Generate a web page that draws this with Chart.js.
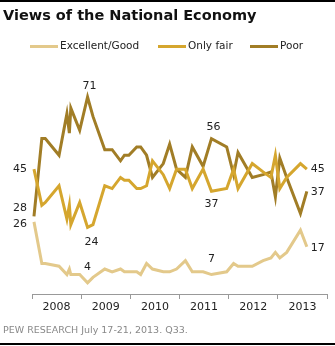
<!DOCTYPE html>
<html lang="en">
<head>
<meta charset="UTF-8">
<title>Views of the National Economy</title>
<script src="https://cdn.jsdelivr.net/npm/chart.js"></script>
<style>
    body {
        margin: 0;
        background: #fff;
        font-family: 'DejaVu Sans', sans-serif;
    }

    .wrap {
        position: relative;
        width: 335px;
        height: 346px;
        overflow: hidden;
    }

    .rule {
        position: absolute;
        left: 0;
        width: 335px;
        height: 2px;
        background: #000;
    }

    h1 {
        position: absolute;
        left: 3px;
        top: 7px;
        margin: 0;
        font-size: 14.5px;
        font-weight: bold;
        color: #111;
        white-space: nowrap;
    }

    .legend-item {
        position: absolute;
        top: 39px;
        font-size: 10.5px;
        color: #222;
        white-space: nowrap;
    }

    .legend-item i {
        display: inline-block;
        width: 28px;
        height: 3px;
        vertical-align: middle;
        margin-right: 2px;
    }

    .source {
        position: absolute;
        left: 3px;
        top: 324px;
        font-size: 9.5px;
        color: #888;
        white-space: nowrap;
    }

    canvas {
        position: absolute;
        left: 0;
        top: 0;
    }
</style>
</head>
<body>
<div class="wrap">
    <canvas id="economyChart" width="335" height="346"></canvas>
    <div class="rule" style="top:0"></div>
    <h1>Views of the National Economy</h1>
    <div id="legend"></div>
    <div class="source">PEW RESEARCH July 17-21, 2013. Q33.</div>
    <div class="rule" style="top:343px"></div>
</div>

<script>
    // survey dates as decimal years
    const dates = [2008.04, 2008.20, 2008.27, 2008.55, 2008.71, 2008.76, 2008.79, 2008.97, 2009.13, 2009.24,
                   2009.48, 2009.63, 2009.80, 2009.88, 2009.97, 2010.13, 2010.21, 2010.33, 2010.45, 2010.67,
                   2010.80, 2010.94, 2011.12, 2011.26, 2011.48, 2011.65, 2011.96, 2012.10, 2012.19, 2012.48,
                   2012.70, 2012.86, 2012.95, 2013.04, 2013.18, 2013.46, 2013.59];
    const years = ['2008', '2009', '2010', '2011', '2012', '2013'];
    const seriesNames = ['Excellent/Good', 'Only fair', 'Poor'];

    const excellentGood = [26, 11, 11, 10, 7, 9, 7, 7, 4, 6,
                           9, 8, 9, 8, 8, 8, 7, 11, 9, 8,
                           8, 9, 12, 8, 8, 7, 8, 11, 10, 10,
                           12, 13, 15, 13, 15, 23, 17];
    const onlyFair = [45, 32, 33, 39, 27, 32, 25, 33, 24, 25,
                      39, 38, 42, 41, 41, 38, 38, 39, 48, 43,
                      38, 45, 45, 38, 45, 37, 38, 45, 38, 47,
                      44, 42, 50, 38, 42, 47, 45];
    const poor = [28, 56, 56, 50, 65, 58, 67, 59, 71, 64,
                  52, 52, 48, 50, 50, 53, 53, 50, 42, 47,
                  54, 45, 42, 53, 46, 56, 53, 43, 51, 42,
                  43, 44, 35, 49, 42, 29, 37];

    const colors = ['#e3c98b', '#d5a62e', '#a17d26'];
    const allSeries = [excellentGood, onlyFair, poor];

    // which points get a value label: [series, index]
    const labelled = [[2, 0], [1, 0], [0, 0], [2, 8], [1, 8], [0, 8],
                      [2, 25], [1, 25], [0, 25], [1, 36], [2, 36], [0, 36]];
    // offsets for those labels (same order)
    const labelOffsets = [[-7, -8, 'right'], [-7, 0, 'right'], [-7, 2, 'right'],
                          [2, -11, 'center'], [4, 15, 'center'], [0, -16, 'center'],
                          [2, -11, 'center'], [0, 13, 'center'], [0, -15, 'center'],
                          [4, 0, 'left'], [4, 1, 'left'], [4, 1, 'left']];

    // legend
    const legendLeft = [30, 158, 250];
    document.getElementById('legend').innerHTML = seriesNames.map((n, i) =>
        `<div class="legend-item" style="left:${legendLeft[i]}px"><i style="background:${colors[i]}"></i>${n}</div>`
    ).join('');

    const extras = {
        id: 'extras',
        afterDraw(chart) {
            const ctx = chart.ctx;
            const xs = chart.scales.x, ys = chart.scales.y;
            ctx.save();
            ctx.fillStyle = '#222';
            ctx.font = '11px "DejaVu Sans"';
            ctx.textBaseline = 'middle';
            ctx.textAlign = 'center';
            years.forEach((y, i) => {
                ctx.fillText(y, xs.getPixelForValue(Number(y) + 0.5), chart.chartArea.bottom + 13);
            });
            labelled.forEach(([s, idx], k) => {
                const [dx, dy, align] = labelOffsets[k];
                ctx.textAlign = align;
                ctx.fillText(String(allSeries[s][idx]),
                    xs.getPixelForValue(dates[idx]) + dx,
                    ys.getPixelForValue(allSeries[s][idx]) + dy);
            });
            ctx.restore();
        }
    };

    new Chart(document.getElementById('economyChart'), {
        type: 'line',
        data: {
            datasets: allSeries.map((arr, i) => ({
                label: seriesNames[i],
                data: dates.map((d, j) => ({ x: d, y: arr[j] })),
                borderColor: colors[i],
                borderWidth: 3,
                pointRadius: 0,
                tension: 0,
                clip: false
            }))
        },
        options: {
            responsive: false,
            animation: false,
            layout: { padding: { left: 32, right: 8, top: 72, bottom: 47 } },
            plugins: { legend: { display: false }, tooltip: { enabled: false } },
            scales: {
                x: {
                    type: 'linear',
                    min: 2008,
                    max: 2014,
                    ticks: { stepSize: 1, display: false },
                    grid: { drawOnChartArea: false, tickLength: 5, color: '#999' },
                    border: { color: '#999' }
                },
                y: { display: false, min: 0, max: 80 }
            }
        },
        plugins: [extras]
    });
</script>
</body>
</html>
